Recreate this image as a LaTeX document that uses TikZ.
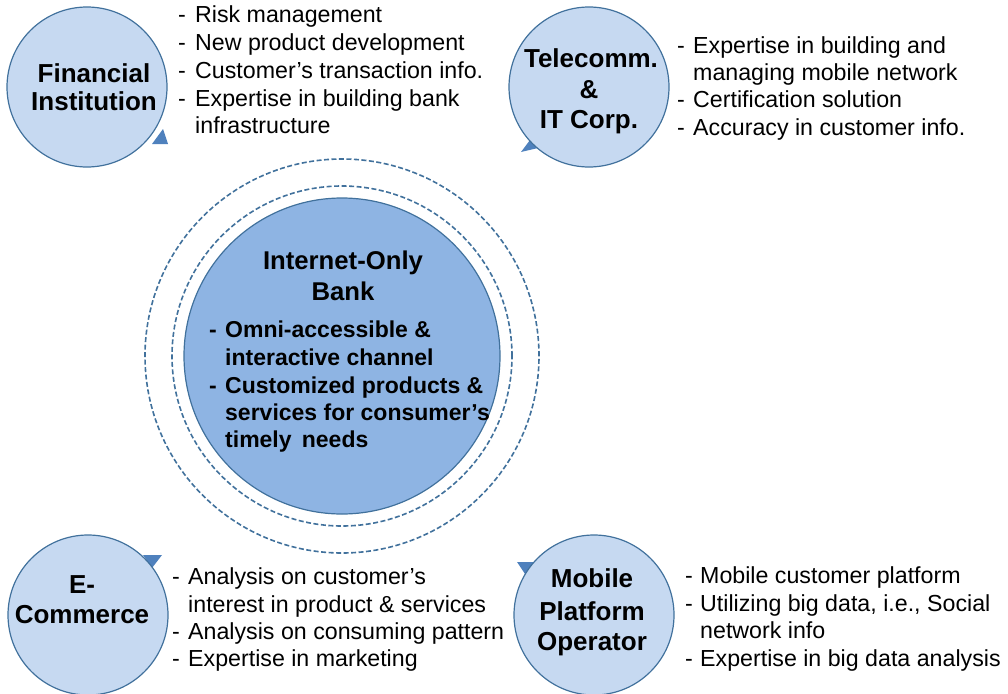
\documentclass[tikz,border=0pt]{standalone}
\usepackage{fontspec}
\setmainfont{Liberation Sans}
\definecolor{lightfill}{RGB}{198,217,241}
\definecolor{edgeblue}{RGB}{65,113,156}
\definecolor{midfill}{RGB}{142,180,227}
\definecolor{tailblue}{RGB}{79,129,189}
\begin{document}
\begin{tikzpicture}[x=1pt,y=-1pt,
  smallc/.style={circle, draw=edgeblue, fill=lightfill, line width=1.2pt, minimum size=160pt, inner sep=0pt},
  bankc/.style={circle, draw=edgeblue, fill=midfill, line width=1.2pt, minimum size=316pt, inner sep=0pt},
  ring/.style={circle, draw=edgeblue, dashed, dash pattern=on 5pt off 2.5pt, line width=1.6pt, inner sep=0pt},
  tail/.style={fill=tailblue, draw=none},
  txt/.style={font=\fontsize{23.2}{28}\selectfont, inner sep=0pt, anchor=base west},
  lbl/.style={font=\bfseries\fontsize{26}{31}\selectfont, inner sep=0pt, anchor=base},
  ctitle/.style={font=\bfseries\fontsize{25.7}{31}\selectfont, inner sep=0pt, anchor=base},
  cbul/.style={font=\bfseries\fontsize{23}{28}\selectfont, inner sep=0pt, anchor=base west}]
\useasboundingbox (0,0) rectangle (1008,693);

% central bank
\node[ring, minimum size=394pt] (outerring) at (342,356) {};
\node[ring, minimum size=340pt] (innerring) at (342,356) {};
\node[bankc] (bank) at (342,356) {};
\node[ctitle] (bt1) at (343,269) {Internet-Only};
\node[ctitle] (bt2) at (343,300) {Bank};
\node[cbul] (bd1) at (209,337) {-};
\node[cbul] (bb1) at (225,337) {Omni-accessible \&};
\node[cbul] (bb2) at (225,365) {interactive channel};
\node[cbul] (bd2) at (209,393) {-};
\node[cbul] (bb3) at (225,393) {Customized products \&};
\node[cbul] (bb4) at (225,420) {services for consumer’s};
\node[cbul] (bb5) at (225,447) {timely\, needs};

% tails
\fill[tail] (152,144) -- (168,144) -- (163,129) -- cycle;
\fill[tail] (521,152) -- (533,136) -- (538,148) -- cycle;
\fill[tail] (143,555) -- (162,555) -- (152,568) -- cycle;
\fill[tail] (517,562) -- (534,562) -- (525,574) -- cycle;

% small circles
\node[smallc] (fin) at (87,87) {};
\node[smallc] (tel) at (589,87) {};
\node[smallc] (ecom) at (88,615) {};
\node[smallc] (mob) at (594,615) {};

\node[lbl] (fin1) at (94,82) {Financial};
\node[lbl] (fin2) at (94,110) {Institution};
\node[lbl] (tel1) at (591,67) {Telecomm.};
\node[lbl] (tel2) at (589,98) {\&};
\node[lbl] (tel3) at (589,128) {IT Corp.};
\node[lbl] (ecom1) at (82,593) {E-};
\node[lbl] (ecom2) at (82,623) {Commerce};
\node[lbl] (mob1) at (592,587) {Mobile};
\node[lbl] (mob2) at (592,620) {Platform};
\node[lbl] (mob3) at (592,650) {Operator};

% Financial list
\node[txt] (fd1) at (178,23) {-};
\node[txt] (ft1) at (195,23) {Risk management};
\node[txt] (fd2) at (178,51) {-};
\node[txt] (ft2) at (195,51) {New product development};
\node[txt] (fd3) at (178,78) {-};
\node[txt] (ft3) at (195,78) {Customer’s transaction info.};
\node[txt] (fd4) at (178,106) {-};
\node[txt] (ft4) at (195,106) {Expertise in building bank};
\node[txt] (ft5) at (195,133) {infrastructure};

% Telecomm list
\node[txt] (td1) at (677,53) {-};
\node[txt] (tt1) at (693,53) {Expertise in building and};
\node[txt] (tt2) at (693,80) {managing mobile network};
\node[txt] (td3) at (677,107) {-};
\node[txt] (tt3) at (693,107) {Certification solution};
\node[txt] (td4) at (677,135) {-};
\node[txt] (tt4) at (693,135) {Accuracy in customer info.};

% E-commerce list
\node[txt] (ed1) at (172,584) {-};
\node[txt] (et1) at (188,584) {Analysis on customer’s};
\node[txt] (et2) at (188,612) {interest in product \& services};
\node[txt] (ed3) at (172,639) {-};
\node[txt] (et3) at (188,639) {Analysis on consuming pattern};
\node[txt] (ed4) at (172,666) {-};
\node[txt] (et4) at (188,666) {Expertise in marketing};

% Mobile list
\node[txt] (md1) at (685,583) {-};
\node[txt] (mt1) at (700,583) {Mobile customer platform};
\node[txt] (md2) at (685,611) {-};
\node[txt] (mt2) at (700,611) {Utilizing big data, i.e., Social};
\node[txt] (mt3) at (700,638) {network info};
\node[txt] (md4) at (685,666) {-};
\node[txt] (mt4) at (700,666) {Expertise in big data analysis};
\end{tikzpicture}
\end{document}
